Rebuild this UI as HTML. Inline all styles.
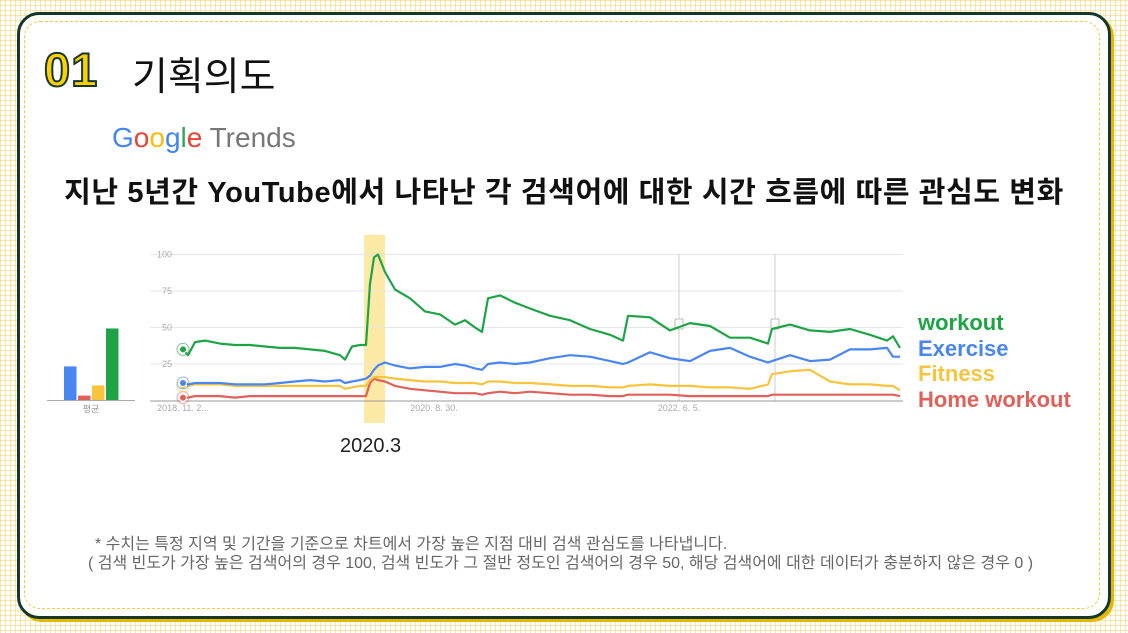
<!DOCTYPE html>
<html><head><meta charset="utf-8">
<style>
body{margin:0;width:1128px;height:633px;overflow:hidden;font-family:"Liberation Sans","Noto Sans CJK KR",sans-serif;
background-color:#fff;background-image:linear-gradient(rgba(243,210,100,0.55) 1px,transparent 1px),linear-gradient(90deg,rgba(243,210,100,0.55) 1px,transparent 1px);background-size:5px 5px;position:relative}
.frame{position:absolute;left:17px;top:12px;width:1088px;height:601px;border:3px solid #14372a;border-radius:22px;background:#fff;box-shadow:3px 3px 0 #e2b800}
.inner{position:absolute;left:24px;top:21px;width:1074px;height:586px;border:1.5px dashed #f0cc3a;border-radius:16px}
.t{position:absolute;white-space:nowrap}
</style></head><body>
<div class="frame"></div>
<div class="inner"></div>
<div class="t" style="left:44px;top:42px;font-size:47px;font-weight:bold;color:#ffd000;-webkit-text-stroke:2px #14372a;letter-spacing:1px;">01</div>
<div class="t" style="left:132px;top:46px;font-size:39px;color:#111;">기획의도</div>
<div class="t" style="left:112px;top:122px;font-size:28px;"><span style="color:#4285f4">G</span><span style="color:#ea4335">o</span><span style="color:#fbbc05">o</span><span style="color:#4285f4">g</span><span style="color:#34a853">l</span><span style="color:#ea4335">e</span> <span style="color:#777">Trends</span></div>
<div class="t" style="left:0;width:1128px;text-align:center;top:169px;font-size:29px;letter-spacing:0.6px;font-weight:bold;color:#111;">지난 5년간 YouTube에서 나타난 각 검색어에 대한 시간 흐름에 따른 관심도 변화</div>
<svg id="chart" width="1128" height="633" style="position:absolute;left:0;top:0"></svg>
<div class="t" style="left:918px;top:310px;font-size:22px;font-weight:bold;color:#1ea446;">workout</div>
<div class="t" style="left:918px;top:336px;font-size:22px;font-weight:bold;color:#4a86f0;">Exercise</div>
<div class="t" style="left:918px;top:361px;font-size:22px;font-weight:bold;color:#f8c43d;">Fitness</div>
<div class="t" style="left:918px;top:387px;font-size:22px;font-weight:bold;color:#e0605a;">Home workout</div>
<div class="t" style="left:340px;top:435px;font-size:20px;color:#222;">2020.3</div>
<div class="t" style="left:95px;top:530px;font-size:16px;color:#666;">* 수치는 특정 지역 및 기간을 기준으로 차트에서 가장 높은 지점 대비 검색 관심도를 나타냅니다.</div>
<div class="t" style="left:88px;top:549px;font-size:16px;color:#666;">( 검색 빈도가 가장 높은 검색어의 경우 100, 검색 빈도가 그 절반 정도인 검색어의 경우 50, 해당 검색어에 대한 데이터가 충분하지 않은 경우 0 )</div>
<script>
const xs=[183,188,195,205,220,235,250,265,280,295,310,325,340,345,352,360,366,370,374,378,385,395,410,425,440,455,465,475,482,488,500,515,530,550,570,590,610,623,628,650,670,690,710,730,750,768,772,790,810,830,850,870,887,893,900];
const workout=[35,31,40,41,39,38,38,37,36,36,35,34,31,28,37,38,38,80,98,100,88,76,70,61,59,52,55,50,47,70,72,67,63,58,55,49,45,41,58,57,48,53,51,43,43,39,49,52,48,47,49,45,41,44,36];
const exercise=[12,11,12,12,12,11,11,11,12,13,14,13,14,12,13,14,15,17,21,24,26,24,22,23,23,25,24,22,21,25,26,25,26,29,31,30,27,25,26,33,29,27,34,36,30,26,27,31,27,28,35,35,36,30,30];
const fitness=[10,10,11,11,11,10,10,10,10,10,10,10,10,8,9,10,10,14,16,16,16,15,14,13,13,12,12,12,11,13,13,12,12,11,10,10,9,9,10,11,10,10,9,9,8,11,18,20,21,13,11,11,10,10,7];
const home=[2,2,3,3,3,2,3,3,3,3,3,3,3,3,3,3,3,12,15,14,13,10,8,7,6,5,5,5,4,5,6,5,6,5,4,4,3,3,4,4,4,3,3,3,3,3,4,4,4,4,4,4,4,4,3];
const averages=[23,3,10,49];
const yTicks=[25,50,75,100];
const xLabels=[["2018. 11. 2...",183],["2020. 8. 30.",434],["2022. 6. 5.",679]];
const colors=["#4a86f0","#e0605a","#f8c43d","#1ea446"];
const NS="http://www.w3.org/2000/svg";
const svg=document.getElementById('chart');
const y=v=>400.5-v*1.46;
function mk(t,a){const e=document.createElementNS(NS,t);for(const k in a)e.setAttribute(k,a[k]);svg.appendChild(e);return e;}
let hb=mk('rect',{x:364,y:235,width:21,height:188,fill:'#fde9a6'});


yTicks.forEach(v=>{
 const l=mk('line',{x1:150,x2:903,y1:y(v),y2:y(v),stroke:'#e6e6e6','stroke-width':1});
 
 
 const t=mk('text',{x:172,y:y(v)+3,'font-size':9,fill:'#aaa','text-anchor':'end'});t.textContent=v;
 
 
});
[679,775].forEach(xv=>{
 const l=mk('line',{x1:xv,x2:xv,y1:254,y2:401,stroke:'#ddd','stroke-width':1.5});
 
 
 const r=mk('rect',{x:xv-4,y:319,width:8,height:10,fill:'#fff',stroke:'#bbb','stroke-width':1});
 
 
});
let ax=mk('line',{x1:150,x2:903,y1:401,y2:401,stroke:'#999','stroke-width':1});


xLabels.forEach(([s,xv])=>{const t=mk('text',{x:xv,y:411,'font-size':9,fill:'#aaa','text-anchor':'middle'});t.textContent=s;
 
 });
const series=[[exercise,'exercise'],[home,'home-workout'],[fitness,'fitness'],[workout,'workout']];
const order=[1,2,0,3];
order.forEach(i=>{
 const [d,n]=series[i];
 const p=mk('polyline',{points:d.map((v,k)=>xs[k]+','+y(v).toFixed(1)).join(' '),fill:'none',stroke:colors[i],'stroke-width':2.2,'stroke-linejoin':'round'});
 
 
 const c=mk('circle',{cx:xs[0],cy:y(d[0]),r:3.5,fill:colors[i],stroke:'#fff','stroke-width':1});
 
 
 const c2=mk('circle',{cx:xs[0],cy:y(d[0]),r:6,fill:'none',stroke:colors[i],'stroke-width':1,opacity:0.6});
 
 
});
let bl=mk('line',{x1:47,x2:135,y1:400.5,y2:400.5,stroke:'#aaa','stroke-width':1});


averages.forEach((v,i)=>{
 const r=mk('rect',{x:64+i*14,y:400-v*1.46,width:12.5,height:v*1.46,fill:colors[i]});
 
 
});
let al=mk('text',{x:91,y:412,'font-size':9,fill:'#999','text-anchor':'middle'});al.textContent='평균';


</script>
</body></html>
